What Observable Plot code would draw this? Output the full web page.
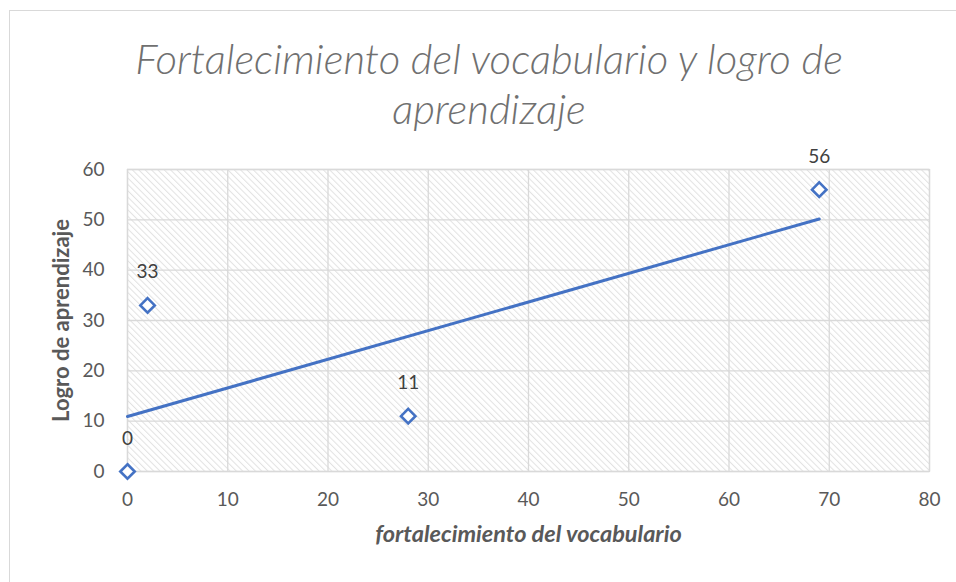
<!DOCTYPE html>
<html>
<head>
<meta charset="utf-8">
<script src="https://cdn.jsdelivr.net/npm/d3@7"></script>
<script src="https://cdn.jsdelivr.net/npm/@observablehq/plot@0.6"></script>
<style>
  html, body { margin: 0; padding: 0; background: #fff; overflow: hidden; }
  #wrap { position: relative; width: 956px; height: 582px; }
  #border { position: absolute; left: 9px; top: 10px; width: 1200px; height: 1200px; border: 1px solid #d9d9d9; box-sizing: border-box; }
  #title { position: absolute; left: 0; top: 0; width: 978px; height: 140px; text-align: center;
    font-family: Lato, sans-serif; font-weight: 300; font-style: italic; color: #707070;
    font-size: 42px; line-height: 50px; padding-top: 33px; box-sizing: border-box; }
  #chart { position: absolute; left: 0; top: 140px; }
</style>
</head>
<body>
<div id="wrap">
  <div id="border"></div>
  <div id="title">Fortalecimiento del vocabulario y logro de<br>aprendizaje</div>
  <div id="chart"></div>
</div>
<script>
const chartTitle = "Fortalecimiento del vocabulario y logro de aprendizaje";
const xLabel = "fortalecimiento del vocabulario";
const yLabel = "Logro de aprendizaje";
const vocabulario = [0, 2, 28, 69];
const logro = [0, 33, 11, 56];
const xTicks = [0, 10, 20, 30, 40, 50, 60, 70, 80];
const yTicks = [0, 10, 20, 30, 40, 50, 60];

const data = vocabulario.map((v, i) => ({x: v, y: logro[i]}));

function hatchFrame(index, scales, values, dims) {
  const g = d3.create("svg:g");
  const p = g.append("defs").append("pattern")
    .attr("id", "hatch").attr("patternUnits", "userSpaceOnUse")
    .attr("width", 4.5).attr("height", 4.5)
    .attr("patternTransform", "rotate(-45)");
  p.append("rect").attr("width", 4.5).attr("height", 4.5).attr("fill", "#ffffff");
  p.append("line").attr("x1", 0.5).attr("x2", 0.5).attr("y1", 0).attr("y2", 4.5)
    .attr("stroke", "#e2e2e2").attr("stroke-width", 1);
  g.append("rect")
    .attr("x", dims.marginLeft).attr("y", dims.marginTop)
    .attr("width", dims.width - dims.marginLeft - dims.marginRight)
    .attr("height", dims.height - dims.marginTop - dims.marginBottom)
    .attr("fill", "url(#hatch)");
  return g.node();
}

const tickColor = "#595959";
const plot = Plot.plot({
  width: 956,
  height: 442,
  marginLeft: 127,
  marginRight: 27,
  marginTop: 29,
  marginBottom: 111,
  style: {fontFamily: "Lato, sans-serif", fontSize: "19px", color: tickColor, background: "transparent"},
  x: {domain: [0, 80], ticks: xTicks},
  y: {domain: [0, 60], ticks: yTicks},
  marks: [
    hatchFrame,
    Plot.gridX(xTicks, {stroke: "#d9d9d9", strokeOpacity: 1, strokeWidth: 1.3}),
    Plot.gridY(yTicks, {stroke: "#d9d9d9", strokeOpacity: 1, strokeWidth: 1.3}),
    Plot.frame({stroke: "#d9d9d9", strokeWidth: 1.3}),
    Plot.axisX(xTicks, {tickSize: 0, tickPadding: 21, label: null, fill: tickColor, fontSize: 19}),
    Plot.axisY(yTicks, {tickSize: 0, tickPadding: 23, label: null, fill: tickColor, fontSize: 19}),
    Plot.linearRegressionY(data, {x: "x", y: "y", ci: 0, stroke: "#4472c4", strokeWidth: 3}),
    Plot.dot(data, {x: "x", y: "y", symbol: "diamond2", r: 6.5, stroke: "#4472c4", strokeWidth: 2.6, fill: "white"}),
    Plot.text(data, {x: "x", y: "y", text: d => String(d.y), dy: -33, fill: "#404040", fontSize: 19}),
    Plot.text([yLabel], {frameAnchor: "left", dx: -66, rotate: -90, textAnchor: "middle", fontWeight: "bold", fontSize: 22, fill: "#595959"}),
    Plot.text([xLabel], {frameAnchor: "bottom", dy: 70, fontWeight: "bold", fontStyle: "italic", fontSize: 23.5, fill: "#595959"})
  ]
});
document.getElementById("chart").appendChild(plot);
</script>
</body>
</html>
